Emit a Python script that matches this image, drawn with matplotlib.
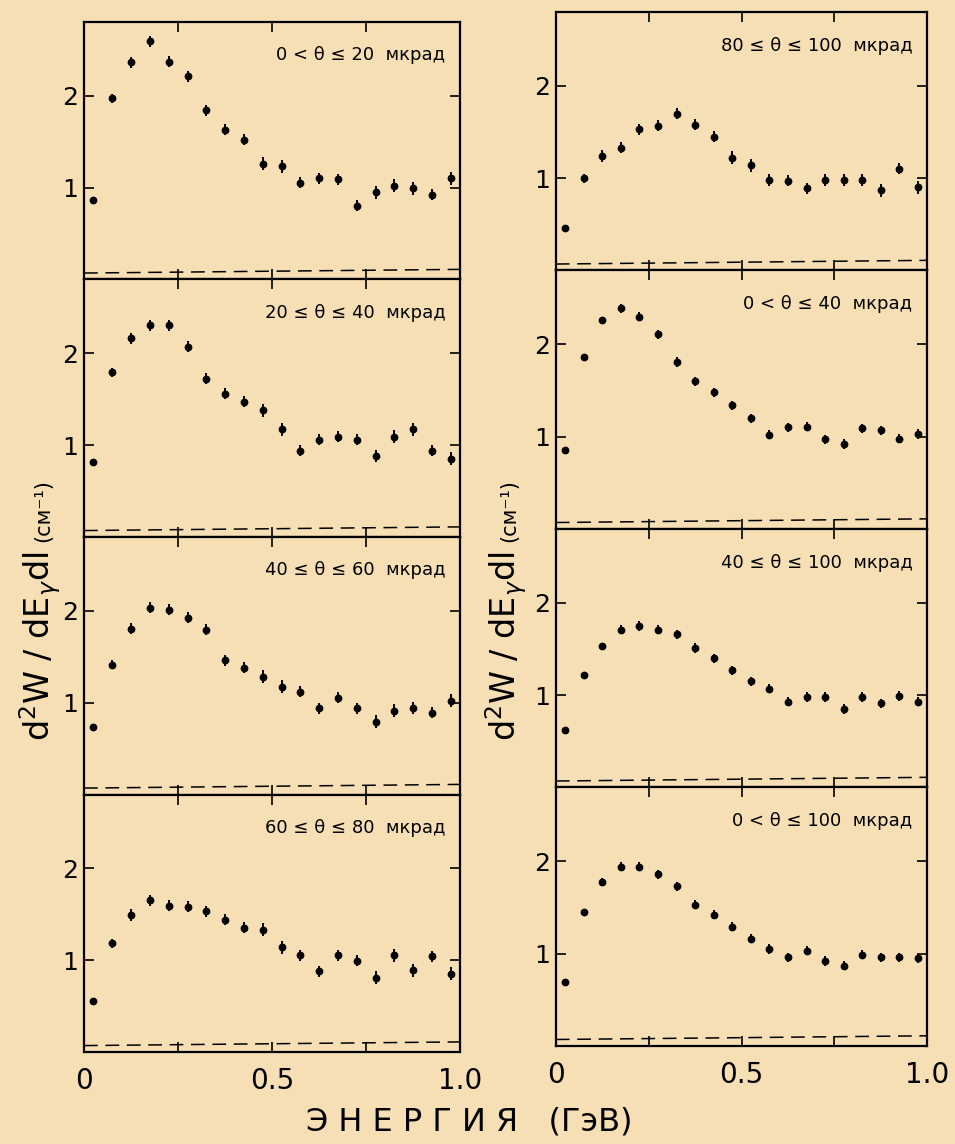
import numpy as np
import matplotlib
matplotlib.use("Agg")
import matplotlib.pyplot as plt

# scanned-paper colour
paper = '#f6dfb4'

# photon energy bin centres, GeV
energy = [0.025, 0.075, 0.125, 0.175, 0.225, 0.275, 0.325, 0.375, 0.425, 0.475,
          0.525, 0.575, 0.625, 0.675, 0.725, 0.775, 0.825, 0.875, 0.925, 0.975]

# left column, top to bottom
w_0_20 = [0.86, 1.97, 2.36, 2.59, 2.37, 2.21, 1.84, 1.63, 1.52, 1.26,
          1.23, 1.05, 1.10, 1.09, 0.80, 0.95, 1.02, 0.99, 0.92, 1.10]
w_20_40 = [0.81, 1.79, 2.16, 2.30, 2.30, 2.07, 1.72, 1.56, 1.47, 1.38,
           1.17, 0.94, 1.06, 1.09, 1.06, 0.88, 1.09, 1.17, 0.94, 0.85]
w_40_60 = [0.73, 1.41, 1.80, 2.03, 2.01, 1.92, 1.79, 1.46, 1.38, 1.28,
           1.17, 1.12, 0.94, 1.05, 0.94, 0.79, 0.91, 0.94, 0.89, 1.02]
w_60_80 = [0.55, 1.18, 1.49, 1.65, 1.59, 1.58, 1.53, 1.44, 1.35, 1.33,
           1.14, 1.05, 0.88, 1.05, 0.99, 0.81, 1.05, 0.89, 1.04, 0.85]

# right column, top to bottom
w_80_100 = [0.46, 1.00, 1.24, 1.33, 1.53, 1.57, 1.70, 1.58, 1.45, 1.22,
            1.14, 0.98, 0.97, 0.89, 0.98, 0.98, 0.98, 0.87, 1.10, 0.90]
w_0_40 = [0.86, 1.86, 2.26, 2.39, 2.30, 2.11, 1.81, 1.60, 1.48, 1.34,
          1.20, 1.02, 1.10, 1.11, 0.97, 0.92, 1.09, 1.07, 0.98, 1.03]
w_40_100 = [0.62, 1.22, 1.53, 1.71, 1.75, 1.71, 1.66, 1.51, 1.40, 1.27,
            1.15, 1.07, 0.93, 0.98, 0.98, 0.85, 0.98, 0.91, 0.99, 0.93]
w_0_100 = [0.69, 1.45, 1.78, 1.94, 1.94, 1.86, 1.73, 1.53, 1.42, 1.29,
           1.16, 1.05, 0.96, 1.03, 0.92, 0.87, 0.99, 0.96, 0.96, 0.95]

# rough statistical errors
err_narrow = [0.02, 0.05, 0.06, 0.06, 0.06, 0.06, 0.06, 0.06, 0.06, 0.07,
              0.07, 0.06, 0.06, 0.06, 0.06, 0.07, 0.07, 0.07, 0.06, 0.07]
err_wide = [0.01, 0.02, 0.04, 0.05, 0.05, 0.05, 0.05, 0.05, 0.05, 0.05,
            0.05, 0.05, 0.05, 0.05, 0.05, 0.05, 0.05, 0.05, 0.05, 0.05]

# background level (dashed line) at E=0 and E=1
bg_ends = [0.07, 0.11]

left_labels = ['0 < θ ≤ 20  мкрад', '20 ≤ θ ≤ 40  мкрад',
               '40 ≤ θ ≤ 60  мкрад', '60 ≤ θ ≤ 80  мкрад']
right_labels = ['80 ≤ θ ≤ 100  мкрад', '0 < θ ≤ 40  мкрад',
                '40 ≤ θ ≤ 100  мкрад', '0 < θ ≤ 100  мкрад']

left_data = [w_0_20, w_20_40, w_40_60, w_60_80]
right_data = [w_80_100, w_0_40, w_40_100, w_0_100]
left_err = [err_narrow, err_narrow, err_narrow, err_narrow]
right_err = [err_narrow, err_wide, err_wide, err_wide]

fig = plt.figure(figsize=(9.55, 11.44), dpi=100, facecolor=paper)


def draw_panel(ax, y, yerr, label, bottom):
    ax.set_facecolor(paper)
    ax.errorbar(energy, y, yerr=yerr, fmt='o', color='black', ms=4.6,
                elinewidth=1.4, capsize=0)
    ax.plot([0, 1], bg_ends, ls=(0, (9, 5)), color='black', lw=1.1)
    ax.set_xlim(0, 1)
    ax.set_ylim(0, 2.8)
    ax.set_xticks([0, 0.25, 0.5, 0.75, 1.0])
    ax.set_yticks([1, 2])
    ax.set_yticklabels(['1', '2'])
    if bottom:
        ax.set_xticklabels(['0', '', '0.5', '', '1.0'])
    else:
        ax.set_xticklabels([])
    ax.tick_params(direction='in', top=True, right=True, length=7, width=1.2)
    ax.tick_params(axis='y', labelsize=18, pad=4)
    ax.tick_params(axis='x', labelsize=20, pad=11)
    for s in ax.spines.values():
        s.set_linewidth(1.6)
    ax.text(0.96, 0.87, label, transform=ax.transAxes, ha='right',
            va='center', fontsize=13)


# left column
h = (0.9808 - 0.0804) / 4
for i in range(4):
    ax = fig.add_axes([0.088, 0.9808 - (i + 1) * h, 0.394, h])
    draw_panel(ax, left_data[i], left_err[i], left_labels[i], i == 3)

# right column
h = (0.9895 - 0.0857) / 4
for i in range(4):
    ax = fig.add_axes([0.582, 0.9895 - (i + 1) * h, 0.389, h])
    draw_panel(ax, right_data[i], right_err[i], right_labels[i], i == 3)

# y labels
for xc in [0.042, 0.530]:
    fig.text(xc, 0.352, r'd$^2$W / dE$_\gamma$dl', rotation=90,
             ha='center', va='bottom', fontsize=24)
    fig.text(xc + 0.003, 0.526, '(см⁻¹)', rotation=90,
             ha='center', va='bottom', fontsize=15)

fig.text(0.491, 0.019, 'Э Н Е Р Г И Я   (ГэВ)', ha='center', va='center',
         fontsize=23)

fig.savefig('out.png', dpi=100, facecolor=paper)
